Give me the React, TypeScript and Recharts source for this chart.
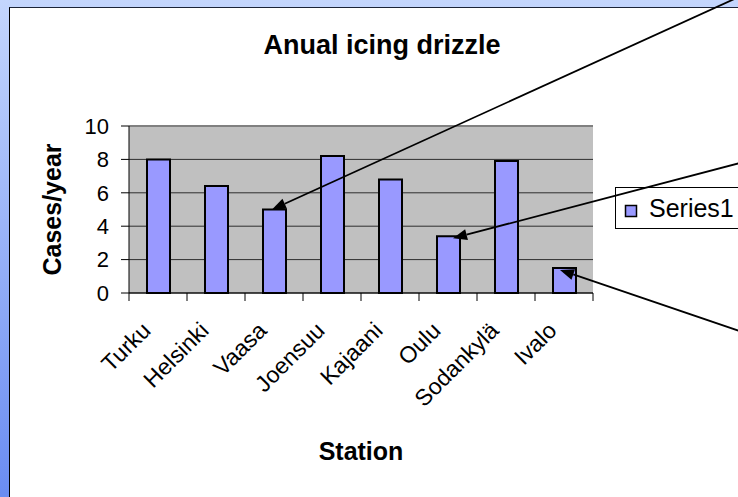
import React from 'react';
import {
  BarChart,
  Bar,
  XAxis,
  YAxis,
  CartesianGrid,
  Legend,
  ReferenceDot,
  ReferenceLine
} from 'recharts';

const stations = ['Turku', 'Helsinki', 'Vaasa', 'Joensuu', 'Kajaani', 'Oulu', 'Sodankylä', 'Ivalo'];
const casesPerYear = [8.0, 6.4, 5.0, 8.2, 6.8, 3.4, 7.9, 1.5];
const yTicks = [0, 2, 4, 6, 8, 10];
const seriesName = 'Series1';
const arrowStations = ['Vaasa', 'Oulu', 'Ivalo'];

const FONT = '"Liberation Sans", Arial, sans-serif';
const W = 738;
const H = 497;
const PLOT = { left: 129, top: 126, right: 593, bottom: 293 };
const STEP = (PLOT.right - PLOT.left) / stations.length;

// arrow geometry (pixels): small nudge of the tip from the bar top, then vector to the tail
const ARROWS: Record<string, { tip: [number, number]; tail: [number, number] }> = {
  Vaasa: { tip: [-2, 0], tail: [470, -214] },
  Oulu: { tip: [5, 2], tail: [290, -76] },
  Ivalo: { tip: [-4, 2], tail: [185, 63] }
};

const data = stations.map((station, i) => ({ station, value: casesPerYear[i] }));

function XTick(props: any) {
  const { x, y, payload, index } = props;
  const tx = x - 6;
  const ty = y + 39;
  return (
    <g>
      <line x1={x - STEP / 2} y1={y} x2={x - STEP / 2} y2={y + 8} stroke="#000" />
      {index === stations.length - 1 && (
        <line x1={x + STEP / 2} y1={y} x2={x + STEP / 2} y2={y + 8} stroke="#000" />
      )}
      <text
        x={tx}
        y={ty}
        textAnchor="end"
        transform={`rotate(-45, ${tx}, ${ty})`}
        fontSize={23}
        fontFamily={FONT}
        fill="#000"
      >
        {payload.value}
      </text>
    </g>
  );
}

function Arrow(props: any) {
  const { cx, cy, name } = props;
  const a = ARROWS[name];
  const x1 = cx + a.tip[0];
  const y1 = cy + a.tip[1];
  const x2 = x1 + a.tail[0];
  const y2 = y1 + a.tail[1];
  const len = Math.hypot(a.tail[0], a.tail[1]);
  const ux = a.tail[0] / len;
  const uy = a.tail[1] / len;
  const bx = x1 + ux * 14;
  const by = y1 + uy * 14;
  const px = -uy * 5.5;
  const py = ux * 5.5;
  return (
    <g>
      <line x1={bx} y1={by} x2={x2} y2={y2} stroke="#000" strokeWidth={1.8} />
      <polygon points={`${x1},${y1} ${bx + px},${by + py} ${bx - px},${by - py}`} fill="#000" />
    </g>
  );
}

function LegendBox() {
  return (
    <div style={{ width: 140, height: 42, border: '1px solid #000', boxSizing: 'border-box' }}>
      <svg width={140} height={40}>
        <rect x={9.5} y={17.5} width={11} height={11} fill="#9999FF" stroke="#000" strokeWidth={1.5} />
        <text x={33} y={29} fontSize={25} fontFamily={FONT} fill="#000">
          {seriesName}
        </text>
      </svg>
    </div>
  );
}

export default function App() {
  return (
    <div
      style={{
        position: 'absolute',
        left: 0,
        top: 0,
        width: W,
        height: H,
        overflow: 'hidden',
        background: 'linear-gradient(#c4d6fd, #6a8cf2)',
        fontFamily: FONT
      }}
    >
      <div
        style={{
          position: 'absolute',
          left: 9,
          top: 7,
          width: 800,
          height: 600,
          background: '#fff',
          borderLeft: '1px solid #000',
          borderTop: '1px solid #1c2438'
        }}
      />
      <svg width={W} height={H} style={{ position: 'absolute', left: 0, top: 0 }}>
        <text x={382} y={54} textAnchor="middle" fontSize={27} fontWeight="bold" fontFamily={FONT} fill="#000">
          Anual icing drizzle
        </text>
      </svg>
      <div style={{ position: 'absolute', left: 0, top: 0 }}>
        <BarChart
          width={W}
          height={H}
          data={data}
          barSize={23}
          margin={{ top: PLOT.top, right: W - PLOT.right, left: 0, bottom: 0 }}
          style={{ overflow: 'visible' }}
        >
          <CartesianGrid vertical={false} stroke="#2e2e2e" fill="#C0C0C0" fillOpacity={1} />
          <XAxis
            dataKey="station"
            height={H - PLOT.bottom}
            interval={0}
            tickSize={0}
            tickMargin={0}
            tickLine={false}
            axisLine={{ stroke: '#000' }}
            tick={<XTick />}
            label={{
              value: 'Station',
              position: 'insideBottom',
              offset: 37,
              style: { fontSize: 25, fontWeight: 'bold', fontFamily: FONT, fill: '#000' }
            }}
          />
          <YAxis
            width={PLOT.left}
            domain={[0, 10]}
            ticks={yTicks}
            interval={0}
            tickSize={8}
            tickMargin={12}
            axisLine={{ stroke: '#000' }}
            tickLine={{ stroke: '#000' }}
            tick={{ fontSize: 22, fill: '#000', fontFamily: FONT }}
            label={{
              value: 'Cases/year',
              angle: -90,
              position: 'insideLeft',
              offset: 52,
              style: { textAnchor: 'middle', fontSize: 25, fontWeight: 'bold', fontFamily: FONT, fill: '#000' }
            }}
          />
          <YAxis
            yAxisId="r"
            orientation="right"
            width={0}
            domain={[0, 10]}
            tick={false}
            tickLine={false}
            axisLine={{ stroke: '#808080', strokeWidth: 2 }}
          />
          <ReferenceLine y={10} stroke="#808080" strokeWidth={2} />
          <Bar
            dataKey="value"
            name={seriesName}
            fill="#9999FF"
            stroke="#000"
            strokeWidth={2}
            isAnimationActive={false}
          />
          {arrowStations.map((s) => (
            <ReferenceDot
              key={s}
              x={s}
              y={casesPerYear[stations.indexOf(s)]}
              r={0}
              ifOverflow="visible"
              shape={(p: any) => <Arrow {...p} name={s} />}
            />
          ))}
          <Legend
            layout="vertical"
            align="center"
            verticalAlign="middle"
            content={() => <LegendBox />}
            wrapperStyle={{ left: 615, top: 187, width: 140, height: 42 }}
          />
        </BarChart>
      </div>
    </div>
  );
}
